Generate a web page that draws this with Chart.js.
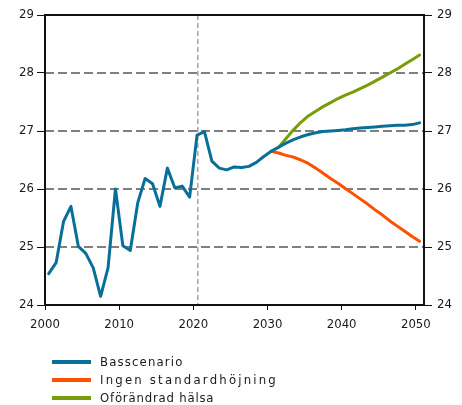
<!DOCTYPE html>
<html>
<head>
<meta charset="utf-8">
<script src="https://cdn.jsdelivr.net/npm/chart.js@4/dist/chart.umd.min.js"></script>
<style>
  html, body { margin: 0; padding: 0; background: #fff; }
  #wrap { position: relative; width: 462px; height: 405px; }
  #chart { position: absolute; left: 0; top: 0; }
  .legend { position: absolute; left: 52px; top: 352.5px; font-family: 'DejaVu Sans Condensed', 'DejaVu Sans', sans-serif; font-size: 13px; color: #1a1a1a; }
  .legend .row { position: relative; height: 18.2px; line-height: 18.2px; white-space: nowrap; }
  .legend .swatch { position: absolute; left: 0; top: 7.5px; width: 39px; height: 4px; }
  .legend .label { position: absolute; left: 48px; top: 0; }
</style>
</head>
<body>
<div id="wrap">
  <canvas id="chart" width="462" height="405"></canvas>
  <div class="legend" id="legend"></div>
</div>
<script>
// Years shown on the x axis
const years = [
  2000, 2001, 2002, 2003, 2004, 2005, 2006, 2007, 2008, 2009,
  2010, 2011, 2012, 2013, 2014, 2015, 2016, 2017, 2018, 2019,
  2020, 2021, 2022, 2023, 2024, 2025, 2026, 2027, 2028, 2029,
  2030, 2031, 2032, 2033, 2034, 2035, 2036, 2037, 2038, 2039,
  2040, 2041, 2042, 2043, 2044, 2045, 2046, 2047, 2048, 2049, 2050
];

// Basscenario, 2000–2050
const basscenario = [
  24.54, 24.73, 25.44, 25.70, 25.01, 24.89, 24.64, 24.15, 24.64, 26.00,
  25.02, 24.94, 25.76, 26.18, 26.09, 25.70, 26.36, 26.02, 26.05, 25.86,
  26.93, 26.99, 26.48, 26.36, 26.33, 26.38, 26.37, 26.39, 26.46, 26.56,
  26.65, 26.72, 26.79, 26.85, 26.90, 26.94, 26.97, 26.99, 27.00, 27.01,
  27.02, 27.04, 27.05, 27.06, 27.07, 27.08, 27.09, 27.10, 27.10, 27.11, 27.14
];

// Projection years for the alternative scenarios
const projectionYears = [
  2030, 2031, 2032, 2033, 2034, 2035, 2036, 2037, 2038, 2039,
  2040, 2041, 2042, 2043, 2044, 2045, 2046, 2047, 2048, 2049, 2050
];

// Ingen standardhöjning, 2030–2050
const ingenStandardhojning = [
  26.65, 26.62, 26.58, 26.55, 26.50, 26.44, 26.36, 26.27, 26.18, 26.10,
  26.01, 25.92, 25.83, 25.74, 25.64, 25.55, 25.45, 25.36, 25.27, 25.18, 25.10
];

// Oförändrad hälsa, 2030–2050
const oforandradHalsa = [
  26.65, 26.72, 26.87, 27.02, 27.15, 27.26, 27.34, 27.42, 27.49, 27.56,
  27.62, 27.67, 27.73, 27.79, 27.86, 27.93, 28.00, 28.07, 28.15, 28.23, 28.31
];

const xTicks = [2000, 2010, 2020, 2030, 2040, 2050];
const yTicks = [24, 25, 26, 27, 28, 29];
const seriesNames = ['Basscenario', 'Ingen standardhöjning', 'Oförändrad hälsa'];
const markerYear = 2020.6;

const colors = ['#0a6f98', '#ff5000', '#789c0a'];
const legendSpacing = ['1.15px', '2.2px', '0.8px'];

// each annual value is placed at the middle of its year
const toPoints = (xs, ys) => xs.map((y, i) => ({ x: y + 0.5, y: ys[i] }));

const font = { family: "'DejaVu Sans Condensed', 'DejaVu Sans', sans-serif", size: 13 };

// dashed horizontal guides, the dashed year marker and the black frame
const framePlugin = {
  id: 'frame',
  beforeDatasetsDraw(chart) {
    const { ctx, chartArea, scales } = chart;
    ctx.save();
    ctx.strokeStyle = '#808080';
    ctx.lineWidth = 2;
    ctx.setLineDash([9, 4]);
    yTicks.forEach(v => {
      const y = Math.round(scales.y.getPixelForValue(v));
      ctx.beginPath();
      ctx.moveTo(chartArea.left, y);
      ctx.lineTo(chartArea.right, y);
      ctx.stroke();
    });
    const x = scales.x.getPixelForValue(markerYear);
    ctx.strokeStyle = '#a8a8a8';
    ctx.lineWidth = 1.6;
    ctx.setLineDash([5, 3]);
    ctx.beginPath();
    ctx.moveTo(x, chartArea.top);
    ctx.lineTo(x, chartArea.bottom);
    ctx.stroke();
    ctx.restore();
  },
  afterDatasetsDraw(chart) {
    const { ctx, chartArea } = chart;
    ctx.save();
    ctx.strokeStyle = '#111';
    ctx.lineWidth = 2;
    ctx.strokeRect(chartArea.left, chartArea.top, chartArea.right - chartArea.left, chartArea.bottom - chartArea.top);
    ctx.restore();
  }
};

new Chart(document.getElementById('chart'), {
  type: 'line',
  data: {
    datasets: [
      { label: seriesNames[1], data: toPoints(projectionYears, ingenStandardhojning), borderColor: colors[1], order: 3 },
      { label: seriesNames[2], data: toPoints(projectionYears, oforandradHalsa), borderColor: colors[2], order: 2 },
      { label: seriesNames[0], data: toPoints(years, basscenario), borderColor: colors[0], order: 1 }
    ]
  },
  options: {
    responsive: false,
    animation: false,
    events: [],
    layout: { padding: { top: 15, left: 0, right: 0, bottom: 70 } },
    elements: {
      line: { borderWidth: 3, tension: 0, borderCapStyle: 'round', borderJoinStyle: 'round', fill: false },
      point: { radius: 0 }
    },
    plugins: { legend: { display: false }, tooltip: { enabled: false } },
    scales: {
      x: {
        type: 'linear', min: 2000, max: 2051.1,
        afterBuildTicks: s => { s.ticks = xTicks.map(v => ({ value: v })); },
        afterFit: s => { s.height = 30; },
        ticks: { font, color: '#1a1a1a', padding: 7, maxRotation: 0, callback: v => String(v) },
        grid: { drawOnChartArea: false, drawTicks: true, tickLength: 5, tickColor: '#111', tickWidth: 1 },
        border: { display: false }
      },
      y: {
        type: 'linear', position: 'left', min: 24, max: 29,
        afterBuildTicks: s => { s.ticks = yTicks.map(v => ({ value: v })); },
        afterFit: s => { s.width = 45; },
        ticks: { font, color: '#1a1a1a', padding: 3 },
        grid: { drawOnChartArea: false, tickLength: 8, tickColor: '#111', tickWidth: 1 },
        border: { display: false }
      },
      y2: {
        type: 'linear', position: 'right', min: 24, max: 29,
        afterBuildTicks: s => { s.ticks = yTicks.map(v => ({ value: v })); },
        afterFit: s => { s.width = 38; },
        ticks: { font, color: '#1a1a1a', padding: 5 },
        grid: { drawOnChartArea: false, tickLength: 8, tickColor: '#111', tickWidth: 1 },
        border: { display: false }
      }
    }
  },
  plugins: [framePlugin]
});

// legend rows below the plot
const legend = document.getElementById('legend');
seriesNames.forEach((name, i) => {
  const row = document.createElement('div');
  row.className = 'row';
  const sw = document.createElement('span');
  sw.className = 'swatch';
  sw.style.background = colors[i];
  const lb = document.createElement('span');
  lb.className = 'label';
  lb.style.letterSpacing = legendSpacing[i];
  lb.textContent = name;
  row.appendChild(sw);
  row.appendChild(lb);
  legend.appendChild(row);
});
</script>
</body>
</html>
